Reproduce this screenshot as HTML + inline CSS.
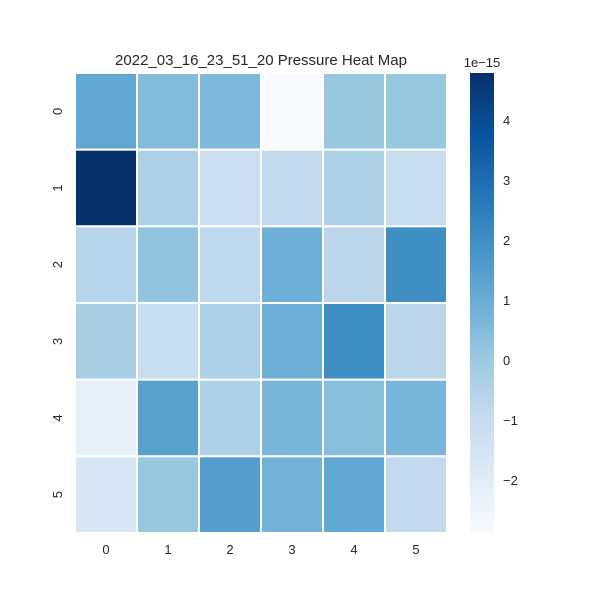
<!DOCTYPE html>
<html><head><meta charset="utf-8"><style>
body{margin:0;background:#fff}
text{font-family:"Liberation Sans",Arial,sans-serif;fill:#262626}
</style></head><body>
<svg width="600" height="600" xmlns="http://www.w3.org/2000/svg">
<defs>
<linearGradient id="blues" x1="0" y1="1" x2="0" y2="0">
<stop offset="0" stop-color="#f7fbff"/><stop offset="0.125" stop-color="#deebf7"/>
<stop offset="0.25" stop-color="#c6dbef"/><stop offset="0.375" stop-color="#9ecae1"/>
<stop offset="0.5" stop-color="#6baed6"/><stop offset="0.625" stop-color="#4292c6"/>
<stop offset="0.75" stop-color="#2171b5"/><stop offset="0.875" stop-color="#08519c"/>
<stop offset="1" stop-color="#08306b"/>
</linearGradient>
</defs>
<text x="261" y="65" text-anchor="middle" font-size="15">2022_03_16_23_51_20 Pressure Heat Map</text>
<g id="cells"></g>
<g id="xt"></g><g id="yt"></g>
<rect x="470" y="73" width="24" height="460" fill="url(#blues)"/>
<text x="482" y="67" text-anchor="middle" font-size="13">1e−15</text>
<g id="ct"></g>
</svg>
<script>
const rowLabels=["0","1","2","3","4","5"];
const colLabels=["0","1","2","3","4","5"];
const values=[
[1.2,0.5,0.6,-2.88,0.1,0.1],
[4.78,-0.4,-1.2,-0.9,-0.4,-1.1],
[-0.6,0.2,-0.8,0.9,-0.7,2.0],
[-0.3,-1.1,-0.4,0.9,2.0,-0.7],
[-2.2,1.4,-0.4,0.7,0.4,0.7],
[-1.6,0.1,1.5,0.8,1.2,-0.9]];
const cbTicks=[-2,-1,0,1,2,3,4];
const vmin=-2.88,vmax=4.78;
const X0=75,Y0=73,W=372,H=460;
const stops=["#f7fbff","#deebf7","#c6dbef","#9ecae1","#6baed6","#4292c6","#2171b5","#08519c","#08306b"].map(h=>[1,3,5].map(i=>parseInt(h.substr(i,2),16)));
function color(v){let t=Math.max(0,Math.min(1,(v-vmin)/(vmax-vmin)))*8;let i=Math.min(7,Math.floor(t)),f=t-i;
const c=stops[i].map((a,k)=>Math.round(a+(stops[i+1][k]-a)*f));return`rgb(${c})`;}
const ns="http://www.w3.org/2000/svg";
const cw=W/colLabels.length,ch=H/rowLabels.length;
const xs=j=>X0+j*cw, ys=i=>Y0+i*ch, cy=v=>Y0+H-(v-vmin)/(vmax-vmin)*H;
const cells=document.getElementById('cells');
values.forEach((row,i)=>row.forEach((v,j)=>{const r=document.createElementNS(ns,'rect');
r.setAttribute('x',xs(j));r.setAttribute('y',ys(i));r.setAttribute('width',cw);r.setAttribute('height',ch);
r.setAttribute('fill',color(v));r.setAttribute('stroke','#fff');r.setAttribute('stroke-width','2');


cells.appendChild(r);}));
colLabels.forEach((l,j)=>{const t=document.createElementNS(ns,'text');t.setAttribute('x',xs(j)+cw/2);t.setAttribute('y',554);
t.setAttribute('text-anchor','middle');t.setAttribute('font-size','13');t.textContent=l;


document.getElementById('xt').appendChild(t);});
rowLabels.forEach((l,i)=>{const t=document.createElementNS(ns,'text');const y=ys(i)+ch/2;
t.setAttribute('transform',`translate(62,${y}) rotate(-90)`);t.setAttribute('text-anchor','middle');t.setAttribute('font-size','13');t.textContent=l;


document.getElementById('yt').appendChild(t);});
cbTicks.forEach(v=>{const t=document.createElementNS(ns,'text');t.setAttribute('x',503);t.setAttribute('y',cy(v)+5);
t.setAttribute('font-size','13');t.textContent=(v<0?'−'+(-v):v);


document.getElementById('ct').appendChild(t);});
</script>
</body></html>
